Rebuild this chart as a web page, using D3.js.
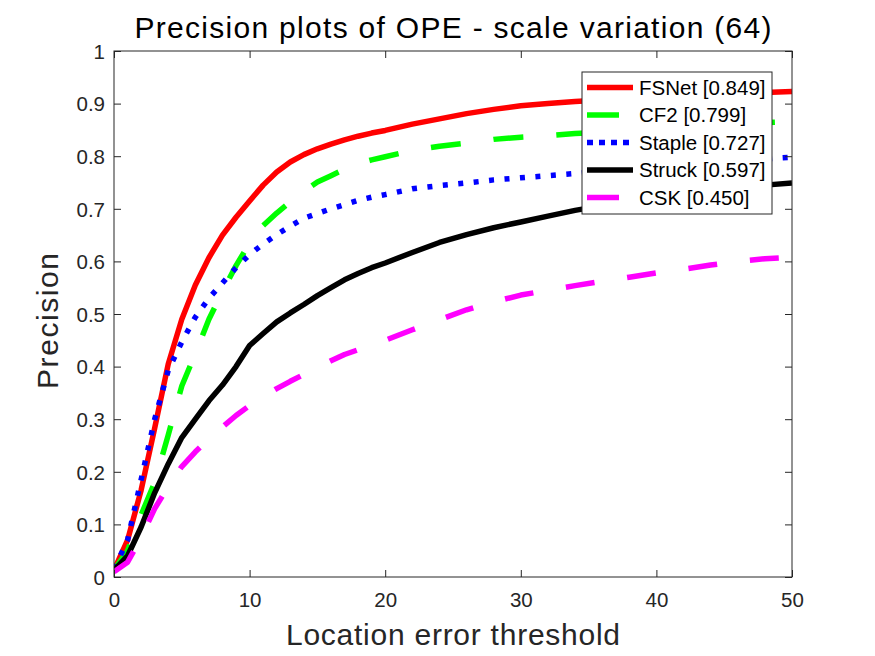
<!DOCTYPE html>
<html><head><meta charset="utf-8">
<script src="https://cdn.jsdelivr.net/npm/d3@7"></script>
<style>
body{margin:0;background:#fff;}
text{font-family:"Liberation Sans",Arial,Helvetica,sans-serif;}
</style>
</head><body>
<svg id="chart" width="875" height="656"></svg>
<script>
const titleText = "Precision plots of OPE - scale variation (64)";
const xLabel = "Location error threshold";
const yLabel = "Precision";
const xTicks = [0, 10, 20, 30, 40, 50];
const yTicks = [0, 0.1, 0.2, 0.3, 0.4, 0.5, 0.6, 0.7, 0.8, 0.9, 1];
const thresholds = [0,1,2,3,4,5,6,7,8,9,10,11,12,13,14,15,16,17,18,19,20,22,24,26,28,30,32,34,36,38,40,42,44,46,48,50];
const fsnet  = [0.013,0.07,0.165,0.283,0.405,0.49,0.555,0.607,0.65,0.684,0.715,0.745,0.77,0.789,0.803,0.814,0.823,0.831,0.838,0.844,0.849,0.861,0.871,0.881,0.889,0.896,0.900,0.904,0.907,0.910,0.913,0.915,0.917,0.919,0.921,0.923];
const cf2    = [0.013,0.05,0.118,0.18,0.27,0.363,0.425,0.49,0.543,0.592,0.635,0.668,0.692,0.713,0.733,0.751,0.763,0.775,0.786,0.793,0.799,0.811,0.819,0.825,0.832,0.836,0.839,0.843,0.846,0.849,0.852,0.855,0.858,0.861,0.864,0.866];
const staple = [0.015,0.07,0.185,0.30,0.393,0.447,0.494,0.53,0.559,0.588,0.613,0.633,0.651,0.667,0.682,0.691,0.70,0.708,0.716,0.722,0.727,0.738,0.744,0.749,0.755,0.759,0.763,0.767,0.771,0.776,0.781,0.785,0.789,0.792,0.795,0.798];
const struck = [0.013,0.04,0.095,0.16,0.215,0.265,0.30,0.335,0.365,0.40,0.44,0.463,0.485,0.502,0.518,0.535,0.55,0.565,0.577,0.588,0.597,0.617,0.636,0.651,0.664,0.675,0.686,0.697,0.706,0.714,0.721,0.728,0.734,0.740,0.745,0.749];
const csk    = [0.01,0.028,0.075,0.13,0.172,0.21,0.238,0.263,0.285,0.307,0.326,0.343,0.358,0.372,0.385,0.398,0.411,0.423,0.432,0.441,0.450,0.470,0.489,0.508,0.523,0.536,0.545,0.554,0.562,0.570,0.578,0.585,0.593,0.600,0.605,0.608];
const seriesNames = ["FSNet", "CF2", "Staple", "Struck", "CSK"];
const seriesScores = ["0.849", "0.799", "0.727", "0.597", "0.450"];
const seriesValues = [fsnet, cf2, staple, struck, csk];
const seriesColors = ["#ff0000", "#00ff00", "#0000ff", "#000000", "#ff00ff"];
const seriesDash = ["none", "30,33", "5,10.5", "none", "29,33"];
const legendDash = ["none", "32,40", "6,6", "none", "32,40"];

const W = 875, H = 656;
const m = {left:114, right:792, top:51, bottom:577};
const axisColor = "#262626";
const svg = d3.select("#chart");
svg.append("rect").attr("width", W).attr("height", H).attr("fill", "#fff");

const x = d3.scaleLinear().domain([0, 50]).range([m.left, m.right]);
const y = d3.scaleLinear().domain([0, 1]).range([m.bottom, m.top]);

svg.append("defs").append("clipPath").attr("id", "clip")
  .append("rect").attr("x", m.left).attr("y", m.top)
  .attr("width", m.right - m.left).attr("height", m.bottom - m.top);

// lines
const line = d3.line().x((d, i) => x(thresholds[i])).y(d => y(d));
const gLines = svg.append("g").attr("clip-path", "url(#clip)");
seriesValues.forEach((vals, k) => {
  gLines.append("path").datum(vals)
    .attr("d", line)
    .attr("fill", "none")
    .attr("stroke", seriesColors[k])
    .attr("stroke-width", 5.5)
    .attr("stroke-linejoin", "round")
    .attr("stroke-linecap", "butt")
    .attr("stroke-dasharray", seriesDash[k]);
});

// axes (ticks inside, box)
const tickLen = 7;
const axG = svg.append("g").attr("fill", "none").attr("stroke", axisColor).attr("stroke-width", 1);
axG.append("rect").attr("x", m.left).attr("y", m.top)
  .attr("width", m.right - m.left).attr("height", m.bottom - m.top);

const xAxisB = d3.axisBottom(x).tickValues(xTicks).tickSizeInner(-tickLen).tickSizeOuter(0).tickFormat(d3.format("d"));
const xAxisT = d3.axisTop(x).tickValues(xTicks).tickSizeInner(-tickLen).tickSizeOuter(0).tickFormat("");
const yAxisL = d3.axisLeft(y).tickValues(yTicks).tickSizeInner(-tickLen).tickSizeOuter(0).tickFormat(d => d === 0 ? "0" : d === 1 ? "1" : d3.format(".1f")(d));
const yAxisR = d3.axisRight(y).tickValues(yTicks).tickSizeInner(-tickLen).tickSizeOuter(0).tickFormat("");

function styleAxis(g) {
  g.select(".domain").remove();
  g.selectAll(".tick line").attr("stroke", axisColor);
  g.selectAll(".tick text").attr("fill", axisColor).attr("font-size", 20.5)
    .attr("font-family", "'Liberation Sans', Arial, sans-serif");
}
svg.append("g").attr("transform", `translate(0,${m.bottom})`).call(xAxisB).call(styleAxis)
  .selectAll(".tick text").attr("dy", null).attr("y", 30);
svg.append("g").attr("transform", `translate(0,${m.top})`).call(xAxisT).call(styleAxis);
svg.append("g").attr("transform", `translate(${m.left},0)`).call(yAxisL).call(styleAxis)
  .selectAll(".tick text").attr("x", -9).attr("dy", "0.36em");
svg.append("g").attr("transform", `translate(${m.right},0)`).call(yAxisR).call(styleAxis);

// title & labels
svg.append("text").attr("x", (m.left + m.right) / 2).attr("y", 38)
  .attr("text-anchor", "middle").attr("font-size", 30).attr("fill", "#000")
  .attr("textLength", 637).attr("lengthAdjust", "spacing").text(titleText);
svg.append("text").attr("x", (m.left + m.right) / 2).attr("y", 645)
  .attr("text-anchor", "middle").attr("font-size", 30).attr("fill", axisColor)
  .attr("textLength", 334).attr("lengthAdjust", "spacing").text(xLabel);
svg.append("text").attr("transform", `translate(58,${(m.top + m.bottom) / 2 + 7}) rotate(-90)`)
  .attr("text-anchor", "middle").attr("font-size", 30).attr("fill", axisColor)
  .attr("textLength", 136).attr("lengthAdjust", "spacing").text(yLabel);

// legend
const lg = svg.append("g");
lg.append("rect").attr("x", 582).attr("y", 72).attr("width", 190).attr("height", 142)
  .attr("fill", "#fff").attr("stroke", axisColor).attr("stroke-width", 1);
const rowY = d3.scaleLinear().domain([0, 4]).range([87.5, 197.5]);
seriesNames.forEach((name, k) => {
  const yy = rowY(k);
  lg.append("line").attr("x1", 587).attr("x2", 633).attr("y1", yy).attr("y2", yy)
    .attr("stroke", seriesColors[k]).attr("stroke-width", 5.5)
    .attr("stroke-dasharray", legendDash[k]);
  lg.append("text").attr("x", 639).attr("y", yy + 7).attr("font-size", 20.5)
    .attr("fill", "#000")
    .text(`${name} [${seriesScores[k]}]`);
});
</script>
</body></html>
